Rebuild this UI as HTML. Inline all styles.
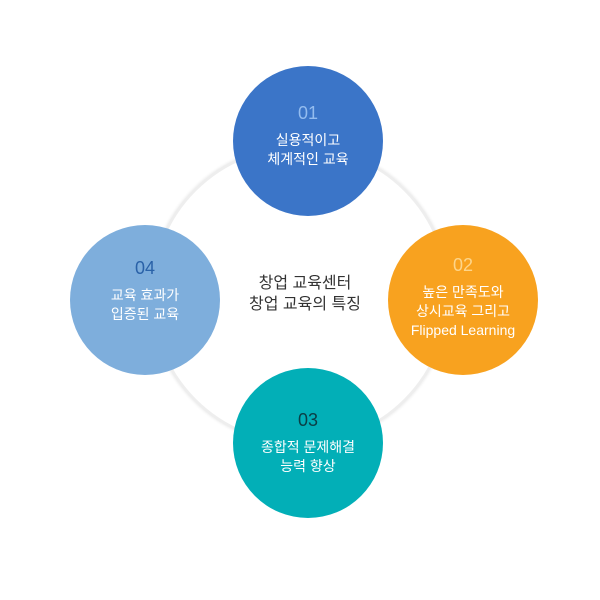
<!DOCTYPE html>
<html><head><meta charset="utf-8"><style>
body{margin:0;width:600px;height:600px;background:#fff;position:relative;overflow:hidden;font-family:"Liberation Sans","Noto Sans CJK KR",sans-serif}
.ring{position:absolute;left:150px;top:145px;width:300px;height:300px;border-radius:50%;border:3px solid #eeeeee;box-sizing:border-box;box-shadow:0 0 3px #e4e4e4}
.c{position:absolute;width:150px;height:150px;border-radius:50%;text-align:center;color:#fff;font-size:14px;line-height:19px}
.c .n{font-size:18px;margin-bottom:8px;line-height:20px}
.ctr{position:absolute;left:220px;top:273px;width:170px;text-align:center;font-size:16px;line-height:21px;color:#333}
</style></head><body>
<div class="ring"></div>
<div class="c" style="left:233px;top:66px;background:#3b75c8"><div style="padding-top:37px"><div class="n" style="color:#93bcef">01</div>실용적이고<br>체계적인 교육</div></div>
<div class="c" style="left:388px;top:225px;background:#f8a21f"><div style="padding-top:30px"><div class="n" style="color:#fdd58a">02</div>높은 만족도와<br>상시교육 그리고<br>Flipped Learning</div></div>
<div class="c" style="left:233px;top:368px;background:#02afb7"><div style="padding-top:42px"><div class="n" style="color:#0b3e45">03</div>종합적 문제해결<br>능력 향상</div></div>
<div class="c" style="left:70px;top:225px;background:#7eaedc"><div style="padding-top:33px"><div class="n" style="color:#2a62a8">04</div>교육 효과가<br>입증된 교육</div></div>
<div class="ctr">창업 교육센터<br>창업 교육의 특징</div>
</body></html>
